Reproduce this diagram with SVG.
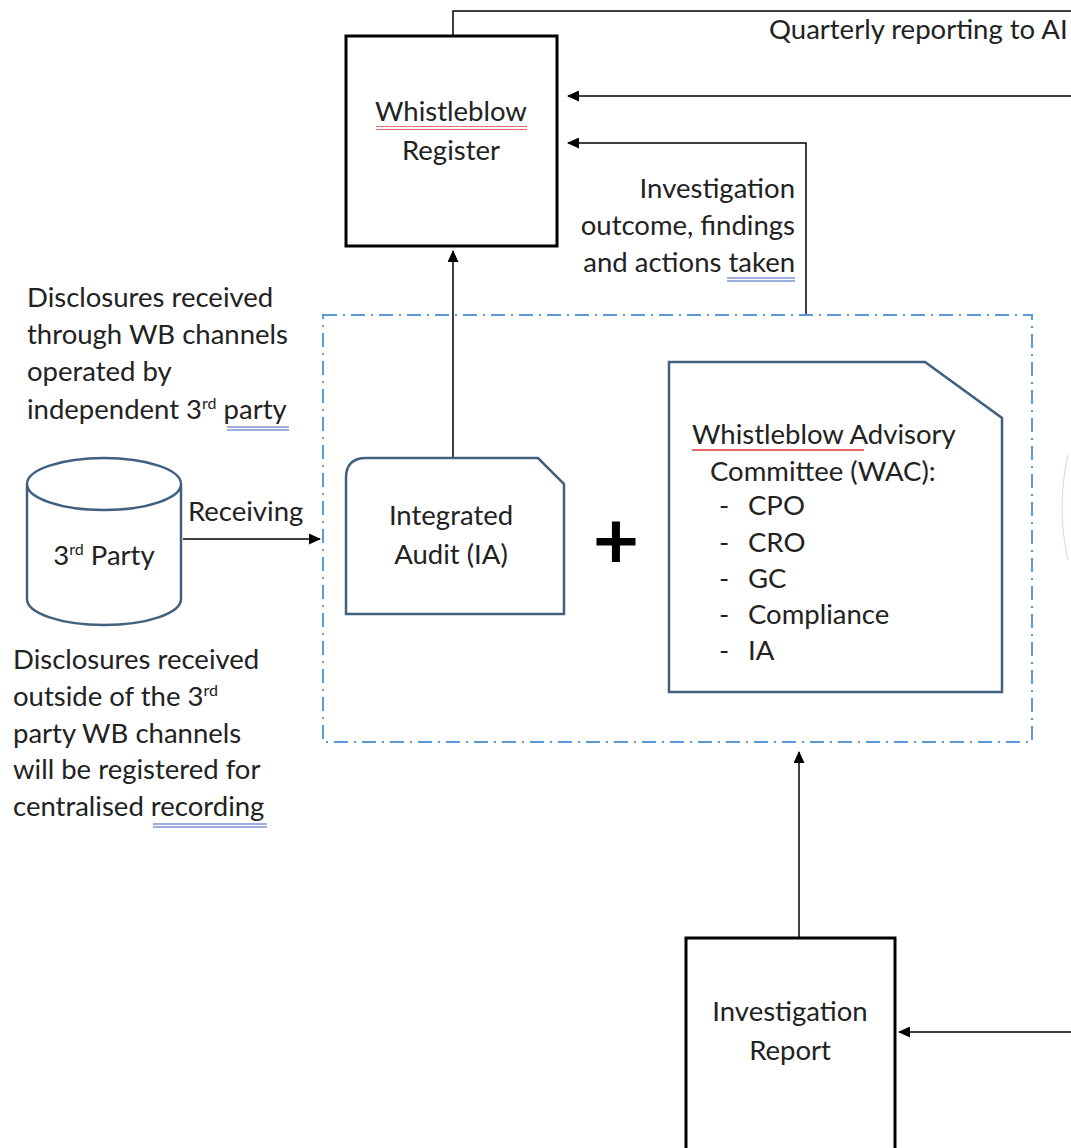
<svg xmlns="http://www.w3.org/2000/svg" width="1071" height="1148" viewBox="0 0 1071 1148">
<defs>
<marker id="arr" markerWidth="12" markerHeight="11" refX="11" refY="5.5" orient="auto" markerUnits="userSpaceOnUse">
<path d="M0,0 L12,5.5 L0,11 z" fill="#000"/>
</marker>
<pattern id="wave" width="4" height="4" patternUnits="userSpaceOnUse"><path d="M0,3 L1,1 L2,3 L3,1 L4,3" fill="none" stroke="#e03030" stroke-width="0.9"/></pattern>
</defs>
<style>
text{font-family:Lato,"Liberation Sans",sans-serif;font-size:27.5px;fill:#222}
.sup{font-size:16px}
.box{fill:#fff;stroke:#000;stroke-width:3}
.blue{fill:#fff;stroke:#41607f;stroke-width:2.5}
.conn{fill:none;stroke:#000;stroke-width:1.5}
.dash{fill:none;stroke:#5b9bd5;stroke-width:2;stroke-dasharray:14,6,2,6}
.dbl{fill:none;stroke:#3b5fc0;stroke-width:1}
.mid{text-anchor:middle}
.end{text-anchor:end}
</style>
<rect width="1071" height="1148" fill="#fff"/>

<g id="group-box">
<rect class="dash" x="323" y="315" width="709" height="427"/>
</g>

<g id="connectors">
<path class="conn" d="M453,36 V11 H1071"/>
<path class="conn" d="M1071,96 H568" marker-end="url(#arr)"/>
<path class="conn" d="M806,314 V143 H568" marker-end="url(#arr)"/>
<path class="conn" d="M453,459 V251" marker-end="url(#arr)"/>
<path class="conn" d="M183,539 H320" marker-end="url(#arr)"/>
<path class="conn" d="M799,937 V752" marker-end="url(#arr)"/>
<path class="conn" d="M1071,1032 H899" marker-end="url(#arr)"/>
<path d="M1068,455 Q1056,507 1068,560" fill="none" stroke="#d4e2ef" stroke-width="1.2"/>
</g>

<g id="label-quarterly"><text x="769" y="39">Quarterly reporting to AI</text></g>

<g id="label-outcome">
<text class="end" x="795" y="198">Investigation</text>
<text class="end" x="795" y="235">outcome, findings</text>
<text class="end" x="795" y="272">and actions taken</text>
<path class="dbl" d="M727,278 H795 M727,281 H795"/>
</g>

<g id="whistleblow-register">
<rect class="box" x="346" y="36" width="211" height="210"/>
<text class="mid" x="451" y="121">Whistleblow</text>
<rect x="376" y="126" width="151" height="4" fill="url(#wave)"/>
<text class="mid" x="451" y="160">Register</text>
</g>

<g id="label-disclosures-top">
<text x="27" y="307">Disclosures received</text>
<text x="27" y="344">through WB channels</text>
<text x="27" y="381">operated by</text>
<text x="27" y="419">independent 3<tspan class="sup" dy="-10">rd</tspan><tspan dy="10"> party</tspan></text>
<path class="dbl" d="M227,427 H289 M227,430 H289"/>
</g>

<g id="third-party">
<path class="blue" d="M27,484 V599 A77,26 0 0 0 181,599 V484 A77,26 0 0 0 27,484 A77,26 0 0 0 181,484"/>
<text class="mid" x="104" y="565">3<tspan class="sup" dy="-10">rd</tspan><tspan dy="10"> Party</tspan></text>
</g>

<g id="label-receiving"><text x="188" y="521">Receiving</text></g>

<g id="integrated-audit">
<path class="blue" d="M366,458 H538 L564,484 V614 H346 V478 Q346,458 366,458 Z"/>
<text class="mid" x="451" y="525">Integrated</text>
<text class="mid" x="451" y="564">Audit (IA)</text>
</g>

<g id="plus"><text class="mid" x="616" y="569" style="font-size:80px;font-weight:bold;fill:#000">+</text></g>

<g id="wac">
<path class="blue" d="M669,362 H925 L1002,418 V692 H669 Z"/>
<text x="692" y="444">Whistleblow Advisory</text>
<rect x="692" y="449" width="172" height="4" fill="url(#wave)"/>
<text x="710" y="481">Committee (WAC):</text>
<text x="719" y="515">-</text><text x="748" y="515">CPO</text>
<text x="719" y="552">-</text><text x="748" y="552">CRO</text>
<text x="719" y="588">-</text><text x="748" y="588">GC</text>
<text x="719" y="624">-</text><text x="748" y="624">Compliance</text>
<text x="719" y="660">-</text><text x="748" y="660">IA</text>
</g>

<g id="label-disclosures-bottom">
<text x="13" y="669">Disclosures received</text>
<text x="13" y="706">outside of the 3<tspan class="sup" dy="-10">rd</tspan></text>
<text x="13" y="743">party WB channels</text>
<text x="13" y="779">will be registered for</text>
<text x="13" y="816">centralised recording</text>
<path class="dbl" d="M153,824 H267 M153,827 H267"/>
</g>

<g id="investigation-report">
<rect class="box" x="686" y="938" width="209" height="220"/>
<text class="mid" x="790" y="1021">Investigation</text>
<text class="mid" x="790" y="1060">Report</text>
</g>
</svg>
